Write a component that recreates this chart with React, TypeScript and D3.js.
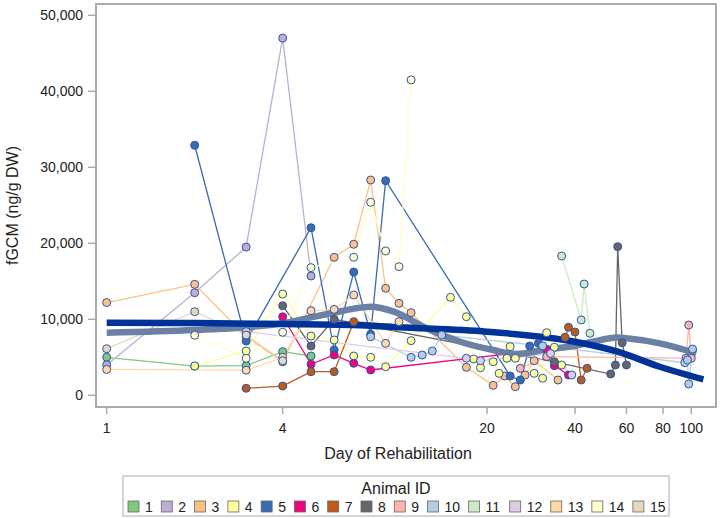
import React from "react";
import * as d3 from "d3";

const W = 720;
const H = 518;

// plot frame
const frame = { left: 96, right: 716, top: 4, bottom: 407 };

const animalIds = ["1", "2", "3", "4", "5", "6", "7", "8", "9", "10", "11", "12", "13", "14", "15"];
const animalColors = [...d3.schemeAccent.slice(0, 8), ...d3.schemePastel1.slice(0, 7)];

// day of rehabilitation / fGCM (ng/g DW)
const a1Days = [1, 2, 3, 4, 5];
const a1Vals = [5000, 3850, 3900, 5740, 5170];
const a2Days = [1, 2, 3, 4, 5];
const a2Vals = [4000, 13500, 19500, 47000, 15700];
const a3Days = [1, 2, 3, 4, 6, 7, 8, 9, 10, 11, 17, 21, 23, 25, 27, 29, 35];
const a3Vals = [12200, 14600, 7700, 4400, 18160, 19870, 28330, 14080, 12100, 10870, 3680, 1310, 2540, 1130, 2670, 4550, 2010];
const a4Days = [2, 3, 4, 5, 6, 7, 8, 9, 11, 15, 17, 18, 19, 21, 22, 23.4, 24, 25, 29, 31, 32, 34, 36];
const a4Vals = [3850, 5830, 13330, 7800, 7280, 5170, 5000, 3760, 7190, 12890, 10340, 4780, 3630, 4420, 2890, 4870, 6400, 4870, 2890, 2240, 8240, 6320, 3990];
const a5Days = [2, 3, 5, 6, 7, 8, 9, 24, 26, 28, 30];
const a5Vals = [32900, 7140, 22050, 5960, 16220, 8030, 28240, 2540, 2010, 6490, 6840];
const a6Days = [4, 5, 6, 7, 8, 32, 34, 38];
const a6Vals = [10340, 4080, 5300, 4210, 3330, 6050, 3900, 2670];
const a7Days = [3, 4, 5, 6, 7, 37, 38, 40, 42, 44];
const a7Vals = [920, 1220, 3110, 3110, 9690, 7630, 8950, 8330, 2010, 3550];
const a8Days = [4, 5, 6, 34, 53, 55, 56, 58, 60];
const a8Vals = [11790, 6490, 10000, 4400, 2800, 3990, 19560, 6920, 3990];
const a9Days = [26, 32, 96, 98, 100];
const a9Vals = [3550, 5100, 4900, 9250, 4870];
const a10Days = [8, 11, 12, 13, 14, 31, 95, 97, 98, 101];
const a10Vals = [7700, 5000, 5300, 5830, 7930, 6500, 4290, 4650, 1490, 6090];
const a11Days = [36, 42, 43, 45];
const a11Vals = [18330, 9910, 14640, 8160];
const a12Days = [3, 17, 19, 33, 39];
const a12Vals = [8370, 4870, 4550, 5500, 2670];
const a13Days = [1, 3, 4, 5, 6, 7, 9, 10];
const a13Vals = [3400, 3300, 5000, 11130, 11310, 13200, 6840, 9690];
const a14Days = [2, 3, 4, 5, 7, 8, 9, 10, 11];
const a14Vals = [7900, 4870, 8290, 16800, 18160, 25400, 18990, 16920, 41500];
const a15Days = [1, 2, 3, 4];
const a15Vals = [6130, 11000, 7930, 4550];

const allDays = [a1Days, a2Days, a3Days, a4Days, a5Days, a6Days, a7Days, a8Days, a9Days, a10Days, a11Days, a12Days, a13Days, a14Days, a15Days];
const allVals = [a1Vals, a2Vals, a3Vals, a4Vals, a5Vals, a6Vals, a7Vals, a8Vals, a9Vals, a10Vals, a11Vals, a12Vals, a13Vals, a14Vals, a15Vals];

// the two fitted curves
const trendDays = [1, 2, 4, 7, 10, 20, 40, 56, 78, 110];
const trendVals = [9550, 9500, 9380, 9250, 8950, 8370, 7050, 5740, 3760, 2100];
const smoothDays = [1, 2, 3, 4, 5, 6, 7, 8, 9.6, 12.4, 16.2, 21, 25.3, 31, 39.5, 46, 56, 60, 78, 104];
const smoothVals = [8240, 8590, 8950, 9470, 10250, 10870, 11400, 11650, 11000, 8820, 7050, 5960, 5430, 5960, 6490, 7050, 7600, 7500, 6840, 5530];

const xTicks = [1, 4, 20, 40, 60, 80, 100];
const yTicks = [0, 10000, 20000, 30000, 40000, 50000];

const FONT = "Arial, 'Liberation Sans', sans-serif";
const frameColor = "#a7acb1";
const markerStroke = "#2f55a6";

const App = () => {
    const x = d3.scaleLog().domain([1, 100]).range([106.7, 691.3]);
    const y = d3.scaleLinear().domain([0, 50000]).range([395.3, 15.3]);

    const series = animalIds.map((id, i) =>
        allDays[i].map((d, j) => ({ day: d, val: allVals[i][j] }))
    );

    const line = d3.line<{ day: number; val: number }>()
        .x(d => x(d.day))
        .y(d => y(d.val));

    const curve = d3.line<number>()
        .x(d => x(d))
        .curve(d3.curveMonotoneX);

    const trendPath = curve.y((d, i) => y(trendVals[i]))(trendDays);
    const smoothPath = curve.y((d, i) => y(smoothVals[i]))(smoothDays);

    const fmt = d3.format(",");

    // legend layout
    const legendFont = 14;
    const digitW = legendFont * 0.556;
    let cursor = 128;
    const legendItems = animalIds.map((id, i) => {
        const item = { id, color: animalColors[i], x: cursor };
        cursor += 11 + 6 + id.length * digitW + 8.5;
        return item;
    });

    return (
        <svg width={W} height={H} style={{ position: "absolute", left: 0, top: 0, background: "#fff" }} fontFamily={FONT}>
            <rect x={0} y={0} width={W} height={H} fill="#fff" />

            {/* series lines */}
            <g fill="none" strokeWidth={1.3}>
                {series.map((s, i) => (
                    <path key={'line' + i} d={line(s) || ""} stroke={animalColors[i]} />
                ))}
            </g>

            {/* fitted curves */}
            <path d={smoothPath || ""} fill="none" stroke="#6a80a5" strokeWidth={6.5} />
            <path d={trendPath || ""} fill="none" stroke="#003399" strokeWidth={6.5} />

            {/* markers */}
            <g stroke={markerStroke} strokeWidth={1}>
                {series.map((s, i) =>
                    s.map((d, j) => (
                        <circle key={'pt' + i + '-' + j} cx={x(d.day)} cy={y(d.val)} r={4} fill={animalColors[i]} />
                    ))
                )}
            </g>

            {/* frame */}
            <rect
                x={frame.left}
                y={frame.top}
                width={frame.right - frame.left}
                height={frame.bottom - frame.top}
                fill="none"
                stroke={frameColor}
                strokeWidth={2}
            />

            {/* y axis */}
            {yTicks.map(t => (
                <g key={'y' + t}>
                    <line x1={88} x2={frame.left} y1={y(t)} y2={y(t)} stroke={frameColor} strokeWidth={1.5} />
                    <text x={83} y={y(t)} dy="0.35em" textAnchor="end" fontSize={14} fill="#222">{fmt(t)}</text>
                </g>
            ))}
            <text
                transform={`translate(18, ${(frame.top + frame.bottom) / 2}) rotate(-90)`}
                textAnchor="middle"
                fontSize={16}
                fill="#222"
            >
                fGCM (ng/g DW)
            </text>

            {/* x axis */}
            {xTicks.map(t => (
                <g key={'x' + t}>
                    <line x1={x(t)} x2={x(t)} y1={frame.bottom} y2={414} stroke={frameColor} strokeWidth={1.5} />
                    <text x={x(t)} y={433} textAnchor="middle" fontSize={14} fill="#222">{t}</text>
                </g>
            ))}
            <text x={398} y={459} textAnchor="middle" fontSize={16} fill="#222">Day of Rehabilitation</text>

            {/* legend */}
            <rect x={123} y={476} width={546} height={40} fill="#fff" stroke="#c8c8c8" strokeWidth={1.5} />
            <text x={396} y={494} textAnchor="middle" fontSize={16} fill="#222">Animal ID</text>
            {legendItems.map(it => (
                <g key={'leg' + it.id}>
                    <rect x={it.x} y={501} width={11} height={11} fill={it.color} stroke="#666" strokeWidth={0.8} />
                    <text x={it.x + 17} y={511.5} fontSize={legendFont} fill="#222">{it.id}</text>
                </g>
            ))}
        </svg>
    );
};

export default App;
